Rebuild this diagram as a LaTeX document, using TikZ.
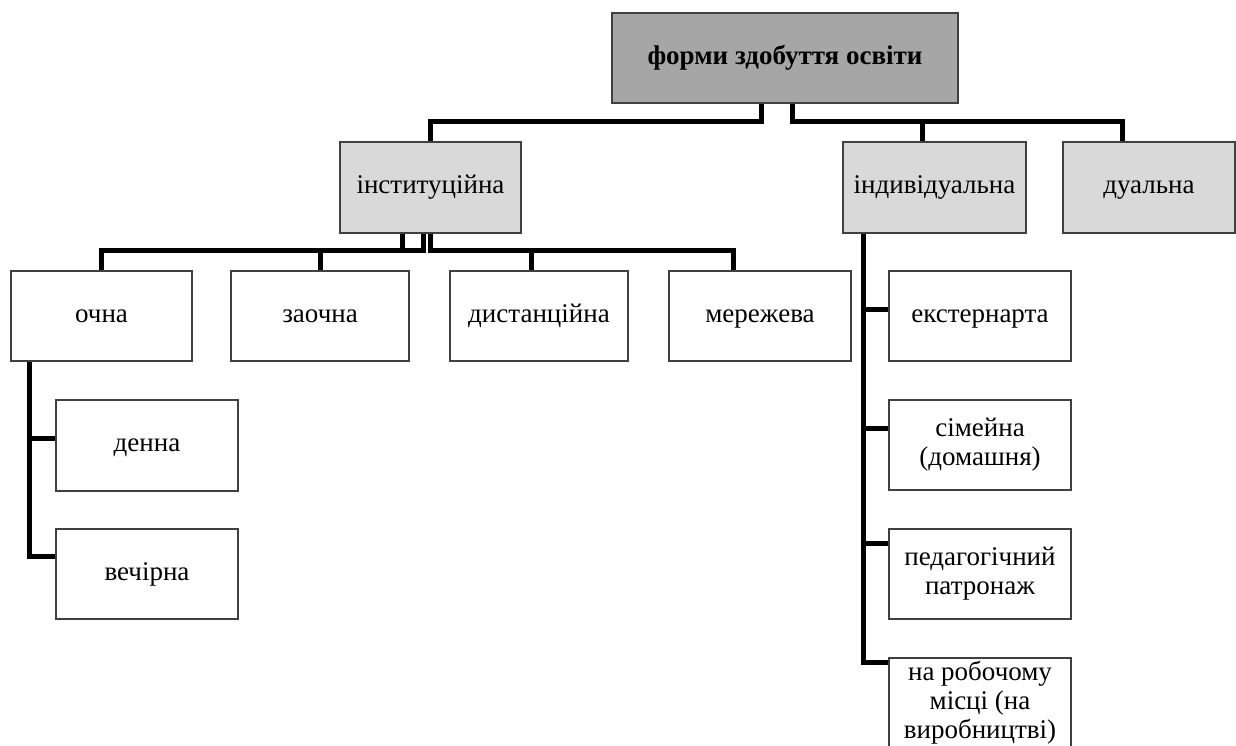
\documentclass[tikz,border=0pt]{standalone}
\usepackage{fontspec}
\setmainfont{Liberation Serif}
\usepackage{xcolor}
\usepackage{tikz}
\definecolor{topfill}{HTML}{A6A6A6}
\definecolor{lvlfill}{HTML}{D9D9D9}
\definecolor{boxedge}{HTML}{404040}

\begin{document}
\begin{tikzpicture}[x=1pt, y=-1pt,
    frame/.style={shape=rectangle, draw=boxedge, line width=1.3pt, inner sep=0pt,
      minimum width=182pt, minimum height=90pt, align=center,
      font=\fontsize{27pt}{29pt}\selectfont},
    box/.style={frame, text height=19pt, text depth=6.5pt},
    topbox/.style={box, fill=topfill, font=\fontsize{27pt}{29pt}\selectfont\bfseries},
    lvlbox/.style={box, fill=lvlfill},
    conn/.style={line width=5pt, black, line join=miter}]
    \clip (0,0) rectangle (1236,745);

    \node[topbox, minimum width=346pt] (top) at (785,58) {форми здобуття освіти};

    \node[lvlbox, minimum width=181pt, minimum height=91pt] (inst) at (430.5,187.5) {інституційна};
    \node[lvlbox, minimum width=183pt, minimum height=91pt] (indiv) at (934.5,187.5) {індивідуальна};
    \node[lvlbox, minimum width=172pt, minimum height=91pt] (dual) at (1149,187.5) {дуальна};

    \node[box, minimum width=181pt] (ochna) at (101.5,316) {очна};
    \node[box, minimum width=178pt] (zaochna) at (320,316) {заочна};
    \node[box, minimum width=178pt] (dist) at (539,316) {дистанційна};
    \node[box] (merezh) at (760,316) {мережева};

    \node[box, minimum height=91pt] (denna) at (147,445.5) {денна};
    \node[box] (vechirna) at (147,574) {вечірна};

    \node[box] (ekst) at (980,316) {екстернарта};
    \node[frame] (simeina) at (980,445) {сімейна\\(домашня)};
    \node[frame] (patron) at (980,574) {педагогічний\\патронаж};
    \node[frame] (robota) at (980,703) {на робочому\\місці (на\\виробництві)};

    % top level
    \draw[conn] ([xshift=-24pt]top.south) -- ++(0,18) -| (inst.north);
    \draw[conn] ([xshift=7pt]top.south) -- ++(0,18) -| ([xshift=-12.5pt]indiv.north);
    \draw[conn] ([xshift=7pt]top.south) -- ++(0,18) -| ([xshift=-27pt]dual.north);

    % institutional
    \draw[conn] ([xshift=-28.5pt]inst.south) -- ++(0,17) -| (ochna.north);
    \draw[conn] ([xshift=-7.5pt]inst.south) -- ++(0,17) -| (zaochna.north);
    \draw[conn] (inst.south) -- ++(0,17) -| ([xshift=-8pt]dist.north);
    \draw[conn] (inst.south) -- ++(0,17) -| ([xshift=-27pt]merezh.north);

    \draw[conn] ([xshift=-72pt]ochna.south) |- ([yshift=7.5pt]denna.west);
    \draw[conn] ([xshift=-72pt]ochna.south) |- ([yshift=18pt]vechirna.west);

    % individual
    \draw[conn] ([xshift=-71.5pt]indiv.south) |- ([yshift=7pt]ekst.west);
    \draw[conn] ([xshift=-71.5pt]indiv.south) |- ([yshift=17pt]simeina.west);
    \draw[conn] ([xshift=-71.5pt]indiv.south) |- ([yshift=31pt]patron.west);
    \draw[conn] ([xshift=-71.5pt]indiv.south) |- ([yshift=41pt]robota.west);
\end{tikzpicture}
\end{document}
